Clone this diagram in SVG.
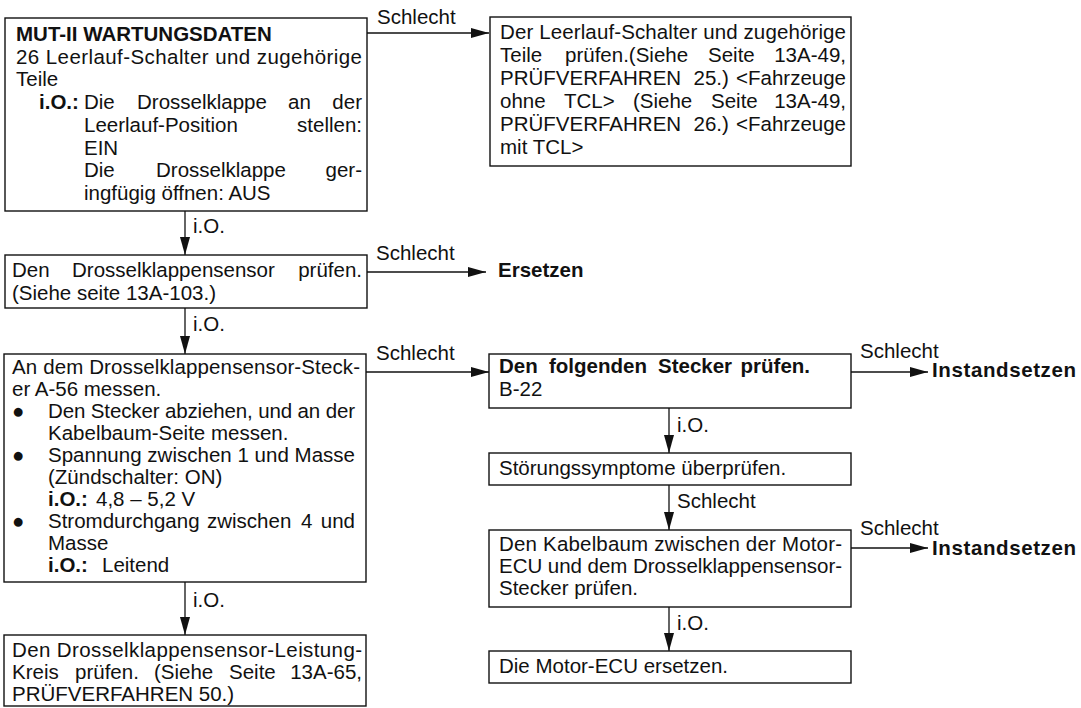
<svg xmlns="http://www.w3.org/2000/svg" width="1081" height="708" viewBox="0 0 1081 708">
<style>
text{font-family:"Liberation Sans",Arial,Helvetica,sans-serif;font-size:20.5px;fill:#111}
.b{font-weight:bold}
.box{fill:#fff;stroke:#111;stroke-width:1.4}
.ln{fill:none;stroke:#111;stroke-width:1.3;marker-end:url(#ah)}
</style>
<defs>
<marker id="ah" markerUnits="userSpaceOnUse" markerWidth="18" markerHeight="10" refX="18" refY="5" orient="auto">
<path d="M0,0 L18,5 L0,10 z" fill="#111"/>
</marker>
</defs>
<rect width="1081" height="708" fill="#fff"/>

<g id="connectors">
<line class="ln" x1="367" y1="33" x2="489" y2="33"/>
<text x="377" y="24">Schlecht</text>
<line class="ln" x1="185" y1="211" x2="185" y2="255"/>
<text x="193" y="233">i.O.</text>
<line class="ln" x1="367" y1="272" x2="486" y2="272"/>
<text x="376" y="260">Schlecht</text>
<line class="ln" x1="185" y1="308" x2="185" y2="354"/>
<text x="193" y="331">i.O.</text>
<line class="ln" x1="366" y1="372" x2="489" y2="372"/>
<text x="376" y="360">Schlecht</text>
<line class="ln" x1="185" y1="582" x2="185" y2="635"/>
<text x="193" y="607">i.O.</text>
<line class="ln" x1="851" y1="372" x2="928" y2="372"/>
<text x="860" y="358">Schlecht</text>
<line class="ln" x1="669" y1="408" x2="669" y2="453"/>
<text x="677" y="432">i.O.</text>
<line class="ln" x1="669" y1="485" x2="669" y2="530"/>
<text x="677" y="508">Schlecht</text>
<line class="ln" x1="851" y1="548" x2="928" y2="548"/>
<text x="860" y="535">Schlecht</text>
<line class="ln" x1="669" y1="607" x2="669" y2="651"/>
<text x="677" y="630">i.O.</text>
</g>

<g id="n1">
<rect class="box" x="5" y="18" width="362" height="193"/>
<text class="b" x="16" y="41">MUT-II WARTUNGSDATEN</text>
<text x="16" y="63.7" textLength="346" lengthAdjust="spacing">26 Leerlauf-Schalter und zugehörige</text>
<text x="16" y="86.4">Teile</text>
<text y="109"><tspan class="b" x="39">i.O.:</tspan><tspan x="84">Die</tspan><tspan x="137">Drosselklappe</tspan><tspan x="288">an</tspan><tspan x="362" text-anchor="end">der</tspan></text>
<text y="131.8"><tspan x="84">Leerlauf-Position</tspan><tspan x="362" text-anchor="end">stellen:</tspan></text>
<text x="84" y="154.5">EIN</text>
<text y="177.2"><tspan x="84">Die</tspan><tspan x="156">Drosselklappe</tspan><tspan x="362" text-anchor="end">ger-</tspan></text>
<text x="84" y="200">ingfügig öffnen: AUS</text>
</g>

<g id="n2">
<rect class="box" x="490" y="17" width="361" height="149"/>
<text x="500" y="39" textLength="346" lengthAdjust="spacing">Der Leerlauf-Schalter und zugehörige</text>
<text y="62"><tspan x="500">Teile</tspan><tspan x="565">prüfen.(Siehe</tspan><tspan x="708">Seite</tspan><tspan x="846" text-anchor="end">13A-49,</tspan></text>
<text y="85"><tspan x="500">PRÜFVERFAHREN</tspan><tspan x="693.5">25.)</tspan><tspan x="846" text-anchor="end">&lt;Fahrzeuge</tspan></text>
<text y="108"><tspan x="500">ohne</tspan><tspan x="564">TCL&gt;</tspan><tspan x="633">(Siehe</tspan><tspan x="711">Seite</tspan><tspan x="846" text-anchor="end">13A-49,</tspan></text>
<text y="131"><tspan x="500">PRÜFVERFAHREN</tspan><tspan x="693.5">26.)</tspan><tspan x="846" text-anchor="end">&lt;Fahrzeuge</tspan></text>
<text x="500" y="154">mit TCL&gt;</text>
</g>

<g id="n3">
<rect class="box" x="5" y="255" width="362" height="53"/>
<text y="277"><tspan x="12">Den</tspan><tspan x="72">Drosselklappensensor</tspan><tspan x="362" text-anchor="end">prüfen.</tspan></text>
<text x="12" y="300">(Siehe seite 13A-103.)</text>
</g>

<g id="n4">
<rect class="box" x="4" y="354" width="362" height="228"/>
<text x="12" y="374" textLength="348" lengthAdjust="spacing">An dem Drosselklappensensor-Steck-</text>
<text x="12" y="396">er A-56 messen.</text>
<text x="12" y="418">●</text>
<text x="48" y="418" textLength="307" lengthAdjust="spacing">Den Stecker abziehen, und an der</text>
<text x="48" y="440">Kabelbaum-Seite messen.</text>
<text x="12" y="462">●</text>
<text x="48" y="462" textLength="307" lengthAdjust="spacing">Spannung zwischen 1 und Masse</text>
<text x="48" y="484">(Zündschalter: ON)</text>
<text y="506"><tspan class="b" x="48">i.O.:</tspan><tspan x="96">4,8 – 5,2 V</tspan></text>
<text x="12" y="528">●</text>
<text y="528"><tspan x="48">Stromdurchgang</tspan><tspan x="207">zwischen</tspan><tspan x="301">4</tspan><tspan x="355" text-anchor="end">und</tspan></text>
<text x="48" y="550">Masse</text>
<text y="572"><tspan class="b" x="48">i.O.:</tspan><tspan x="102">Leitend</tspan></text>
</g>

<g id="n5">
<rect class="box" x="4" y="635" width="362" height="71"/>
<text x="12" y="657" textLength="350" lengthAdjust="spacing">Den Drosselklappensensor-Leistung-</text>
<text y="679"><tspan x="12">Kreis</tspan><tspan x="75">prüfen.</tspan><tspan x="154">(Siehe</tspan><tspan x="229">Seite</tspan><tspan x="362" text-anchor="end">13A-65,</tspan></text>
<text x="12" y="701">PRÜFVERFAHREN 50.)</text>
</g>

<g id="n_ersetzen">
<text class="b" x="498" y="277">Ersetzen</text>
</g>

<g id="n6">
<rect class="box" x="489" y="354" width="362" height="54"/>
<text class="b" y="373"><tspan x="499">Den</tspan><tspan x="549">folgenden</tspan><tspan x="658">Stecker</tspan><tspan x="810" text-anchor="end">prüfen.</tspan></text>
<text x="499" y="396">B-22</text>
</g>

<g id="n_inst1">
<text class="b" x="932" y="377" textLength="144" lengthAdjust="spacing">Instandsetzen</text>
</g>

<g id="n7">
<rect class="box" x="489" y="453" width="362" height="32"/>
<text x="499" y="475">Störungssymptome überprüfen.</text>
</g>

<g id="n8">
<rect class="box" x="489" y="530" width="362" height="77"/>
<text x="499" y="551" textLength="343" lengthAdjust="spacing">Den Kabelbaum zwischen der Motor-</text>
<text x="499" y="573" textLength="343" lengthAdjust="spacing">ECU und dem Drosselklappensensor-</text>
<text x="499" y="595">Stecker prüfen.</text>
</g>

<g id="n_inst2">
<text class="b" x="932" y="555" textLength="144" lengthAdjust="spacing">Instandsetzen</text>
</g>

<g id="n9">
<rect class="box" x="489" y="651" width="362" height="32"/>
<text x="499" y="673">Die Motor-ECU ersetzen.</text>
</g>
</svg>
